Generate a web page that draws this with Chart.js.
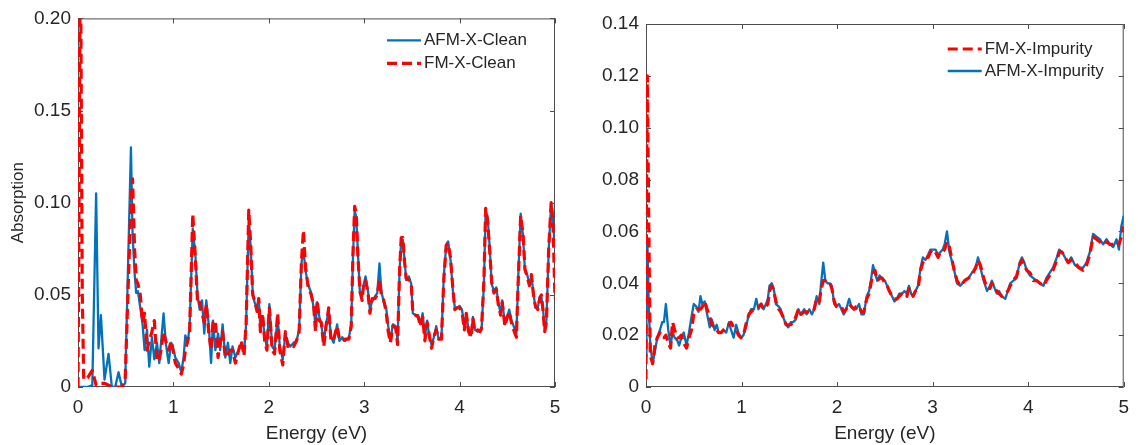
<!DOCTYPE html>
<html>
<head>
<meta charset="utf-8">
<title>Absorption spectra</title>
<script src="https://cdn.jsdelivr.net/npm/chart.js@4.4.1/dist/chart.umd.min.js"></script>
<style>
  html, body { margin: 0; padding: 0; background: #fff; }
  #wrap { position: relative; width: 1138px; height: 445px; overflow: hidden; }
  canvas { position: absolute; top: 0; }
  #cleanChart { left: 0; }
  #impChart { left: 580px; }
</style>
</head>
<body>
<div id="wrap">
  <canvas id="cleanChart" width="570" height="445"></canvas>
  <canvas id="impChart" width="558" height="445"></canvas>
</div>
<script>
// tick values / labels
const energyTicks = [0, 1, 2, 3, 4, 5];
const cleanTicks = [0, 0.05, 0.10, 0.15, 0.20];
const cleanTickLabels = ['0', '0.05', '0.10', '0.15', '0.20'];
const impTicks = [0, 0.02, 0.04, 0.06, 0.08, 0.10, 0.12, 0.14];
const impTickLabels = ['0', '0.02', '0.04', '0.06', '0.08', '0.10', '0.12', '0.14'];

// left panel: clean (energy in eV)
const energyClean = [
  0, 0.01, 0.02, 0.03, 0.045, 0.06, 0.1, 0.15, 0.19, 0.215,
  0.24, 0.278, 0.32, 0.355, 0.39, 0.425, 0.46, 0.495, 0.52, 0.555,
  0.572, 0.593, 0.61, 0.628, 0.653, 0.677, 0.698, 0.723, 0.747, 0.775,
  0.8, 0.828, 0.852, 0.87, 0.897, 0.92, 0.95, 0.978, 1.003, 1.02,
  1.055, 1.083, 1.107, 1.125, 1.15, 1.17, 1.203, 1.23, 1.254, 1.275,
  1.3, 1.324, 1.345, 1.37, 1.395, 1.415, 1.44, 1.468, 1.49, 1.516,
  1.544, 1.572, 1.596, 1.62, 1.65, 1.684, 1.712, 1.74, 1.762, 1.79,
  1.81, 1.831, 1.85, 1.877, 1.895, 1.912, 1.935, 1.957, 1.98, 2.006,
  2.035, 2.06, 2.093, 2.115, 2.146, 2.174, 2.2, 2.225, 2.26, 2.29,
  2.318, 2.342, 2.363, 2.385, 2.41, 2.445, 2.47, 2.49, 2.507, 2.53,
  2.55, 2.576, 2.6, 2.628, 2.652, 2.68, 2.716, 2.74, 2.77, 2.8,
  2.84, 2.864, 2.882, 2.9, 2.917, 2.933, 2.955, 2.978, 2.996, 3.014,
  3.04, 3.06, 3.085, 3.112, 3.137, 3.16, 3.18, 3.205, 3.23, 3.252,
  3.275, 3.3, 3.33, 3.35, 3.37, 3.388, 3.405, 3.423, 3.44, 3.468,
  3.493, 3.51, 3.537, 3.565, 3.59, 3.613, 3.636, 3.66, 3.683, 3.706,
  3.73, 3.755, 3.78, 3.81, 3.834, 3.86, 3.88, 3.905, 3.93, 3.95,
  3.975, 4.0, 4.025, 4.05, 4.07, 4.094, 4.12, 4.14, 4.16, 4.19,
  4.215, 4.23, 4.255, 4.273, 4.294, 4.318, 4.336, 4.36, 4.385, 4.405,
  4.43, 4.447, 4.475, 4.5, 4.52, 4.543, 4.567, 4.595, 4.615, 4.64,
  4.665, 4.685, 4.708, 4.732, 4.753, 4.774, 4.795, 4.82, 4.84, 4.857,
  4.875, 4.892, 4.91, 4.934, 4.96, 4.978, 5.0
];
const afmClean = [
  0, 0, 0, 0, 0, 0, 0, 0.001, 0.105, 0.021,
  0.039, 0.004, 0.018, 0, 0, 0.008, 0, 0.002, 0.056, 0.13,
  0.083, 0.062, 0.051, 0.052, 0.043, 0.034, 0.02, 0.031, 0.011, 0.027,
  0.015, 0.024, 0.013, 0.024, 0.04, 0.024, 0.013, 0.024, 0.02, 0.016,
  0.013, 0.008, 0.016, 0.028, 0.024, 0.033, 0.086, 0.072, 0.049, 0.042,
  0.047, 0.029, 0.047, 0.034, 0.013, 0.036, 0.02, 0.029, 0.02, 0.034,
  0.016, 0.024, 0.013, 0.022, 0.016, 0.02, 0.024, 0.018, 0.034, 0.092,
  0.076, 0.052, 0.046, 0.043, 0.048, 0.031, 0.038, 0.027, 0.022, 0.045,
  0.022, 0.02, 0.038, 0.022, 0.015, 0.029, 0.024, 0.022, 0.024, 0.025,
  0.031, 0.067, 0.075, 0.063, 0.056, 0.051, 0.043, 0.033, 0.046, 0.038,
  0.034, 0.024, 0.034, 0.042, 0.027, 0.024, 0.034, 0.025, 0.027, 0.025,
  0.027, 0.034, 0.07, 0.096, 0.092, 0.074, 0.051, 0.049, 0.056, 0.06,
  0.052, 0.042, 0.047, 0.049, 0.051, 0.067, 0.052, 0.046, 0.043, 0.033,
  0.025, 0.034, 0.033, 0.025, 0.062, 0.08, 0.08, 0.069, 0.058, 0.06,
  0.056, 0.04, 0.039, 0.039, 0.034, 0.04, 0.027, 0.036, 0.027, 0.023,
  0.027, 0.033, 0.026, 0.027, 0.06, 0.077, 0.079, 0.069, 0.052, 0.043,
  0.043, 0.044, 0.042, 0.033, 0.04, 0.031, 0.028, 0.038, 0.031, 0.03,
  0.031, 0.031, 0.056, 0.096, 0.092, 0.074, 0.056, 0.052, 0.054, 0.046,
  0.04, 0.047, 0.034, 0.038, 0.042, 0.036, 0.033, 0.028, 0.06, 0.094,
  0.082, 0.063, 0.061, 0.056, 0.06, 0.051, 0.043, 0.043, 0.049, 0.049,
  0.042, 0.031, 0.036, 0.074, 0.1, 0.092, 0.075
];
const fmClean = [
  0, 0.09, 0.2, 0.2, 0.05, 0.004, 0.005, 0.009, 0.001, 0.001,
  0.002, 0.002, 0.001, 0, 0, 0, 0, 0.005, 0.045, 0.1,
  0.113, 0.075, 0.058, 0.056, 0.05, 0.035, 0.04, 0.02, 0.025, 0.03,
  0.036, 0.014, 0.015, 0.02, 0.03, 0.025, 0.02, 0.025, 0.018, 0.013,
  0.01, 0.007, 0.012, 0.02, 0.025, 0.03, 0.094, 0.07, 0.045, 0.046,
  0.04, 0.035, 0.045, 0.03, 0.02, 0.035, 0.036, 0.016, 0.025, 0.03,
  0.016, 0.018, 0.02, 0.02, 0.013, 0.02, 0.025, 0.017, 0.034, 0.096,
  0.078, 0.05, 0.047, 0.041, 0.048, 0.03, 0.04, 0.025, 0.02, 0.043,
  0.02, 0.018, 0.04, 0.02, 0.012, 0.03, 0.022, 0.023, 0.022, 0.025,
  0.03, 0.068, 0.085, 0.065, 0.055, 0.05, 0.044, 0.03, 0.047, 0.036,
  0.035, 0.022, 0.033, 0.043, 0.025, 0.026, 0.033, 0.026, 0.025, 0.026,
  0.026, 0.033, 0.072, 0.098, 0.094, 0.072, 0.052, 0.047, 0.057, 0.058,
  0.051, 0.04, 0.048, 0.048, 0.05, 0.058, 0.05, 0.047, 0.041, 0.03,
  0.024, 0.033, 0.032, 0.023, 0.062, 0.081, 0.081, 0.068, 0.059, 0.058,
  0.056, 0.04, 0.039, 0.038, 0.033, 0.038, 0.025, 0.035, 0.028, 0.021,
  0.027, 0.031, 0.026, 0.026, 0.058, 0.077, 0.078, 0.07, 0.053, 0.042,
  0.043, 0.043, 0.041, 0.031, 0.04, 0.03, 0.027, 0.037, 0.03, 0.031,
  0.03, 0.032, 0.058, 0.097, 0.09, 0.072, 0.057, 0.051, 0.053, 0.045,
  0.039, 0.046, 0.033, 0.038, 0.041, 0.035, 0.031, 0.027, 0.058, 0.093,
  0.083, 0.064, 0.06, 0.055, 0.061, 0.05, 0.044, 0.042, 0.048, 0.05,
  0.041, 0.03, 0.035, 0.075, 0.1, 0.09, 0.048
];

// right panel: impurity (energy in eV)
const energyImp = [
  0, 0.005, 0.014, 0.03, 0.045, 0.07, 0.094, 0.118, 0.146, 0.17,
  0.188, 0.208, 0.233, 0.257, 0.278, 0.3, 0.327, 0.347, 0.37, 0.395,
  0.424, 0.45, 0.476, 0.5, 0.528, 0.55, 0.57, 0.59, 0.614, 0.64,
  0.667, 0.69, 0.718, 0.74, 0.76, 0.787, 0.81, 0.84, 0.868, 0.89,
  0.917, 0.944, 0.967, 0.995, 1.02, 1.045, 1.077, 1.1, 1.13, 1.154,
  1.177, 1.205, 1.23, 1.256, 1.275, 1.292, 1.316, 1.337, 1.36, 1.39,
  1.41, 1.435, 1.466, 1.49, 1.515, 1.54, 1.567, 1.595, 1.62, 1.657,
  1.68, 1.71, 1.737, 1.76, 1.786, 1.814, 1.83, 1.855, 1.877, 1.9,
  1.925, 1.945, 1.97, 1.993, 2.02, 2.045, 2.07, 2.095, 2.126, 2.15,
  2.177, 2.2, 2.23, 2.255, 2.28, 2.31, 2.335, 2.35, 2.376, 2.397,
  2.42, 2.445, 2.47, 2.5, 2.524, 2.547, 2.575, 2.6, 2.627, 2.65,
  2.68, 2.705, 2.73, 2.752, 2.775, 2.795, 2.82, 2.847, 2.874, 2.898,
  2.925, 2.953, 2.977, 3.0, 3.03, 3.057, 3.08, 3.105, 3.125, 3.15,
  3.176, 3.22, 3.255, 3.29, 3.335, 3.375, 3.41, 3.45, 3.475, 3.5,
  3.534, 3.57, 3.6, 3.62, 3.65, 3.672, 3.695, 3.724, 3.76, 3.787,
  3.812, 3.846, 3.88, 3.91, 3.935, 3.96, 3.985, 4.02, 4.054, 4.09,
  4.124, 4.16, 4.19, 4.225, 4.26, 4.3, 4.325, 4.355, 4.385, 4.42,
  4.45, 4.49, 4.53, 4.575, 4.61, 4.645, 4.68, 4.715, 4.75, 4.785,
  4.82, 4.855, 4.89, 4.925, 4.95, 4.975, 5.0
];
const afmImp = [
  0.012, 0.04, 0.057, 0.03, 0.016, 0.009, 0.014, 0.019, 0.022, 0.025,
  0.025, 0.032, 0.022, 0.016, 0.021, 0.019, 0.018, 0.016, 0.019, 0.021,
  0.016, 0.021, 0.027, 0.032, 0.031, 0.029, 0.035, 0.032, 0.033, 0.028,
  0.023, 0.026, 0.022, 0.024, 0.021, 0.021, 0.022, 0.021, 0.025, 0.022,
  0.019, 0.024, 0.021, 0.019, 0.02, 0.023, 0.028, 0.03, 0.03, 0.034,
  0.03, 0.032, 0.03, 0.032, 0.034, 0.039, 0.04, 0.038, 0.032, 0.031,
  0.03, 0.027, 0.024, 0.023, 0.025, 0.025, 0.026, 0.03, 0.028, 0.03,
  0.028, 0.03, 0.028, 0.03, 0.035, 0.032, 0.039, 0.048, 0.041, 0.04,
  0.04, 0.039, 0.032, 0.031, 0.032, 0.03, 0.028, 0.03, 0.034, 0.031,
  0.03, 0.03, 0.032, 0.028, 0.028, 0.035, 0.037, 0.04, 0.047, 0.044,
  0.041, 0.043, 0.042, 0.041, 0.039, 0.037, 0.035, 0.033, 0.034, 0.036,
  0.036, 0.037, 0.036, 0.039, 0.036, 0.035, 0.037, 0.039, 0.046, 0.05,
  0.049, 0.051, 0.053, 0.053, 0.053, 0.051, 0.052, 0.053, 0.055, 0.06,
  0.052, 0.046, 0.04, 0.039, 0.041, 0.042, 0.044, 0.046, 0.05, 0.046,
  0.041, 0.037, 0.039, 0.041, 0.038, 0.036, 0.037, 0.035, 0.034, 0.037,
  0.04, 0.041, 0.042, 0.048, 0.05, 0.048, 0.045, 0.043, 0.042, 0.041,
  0.04, 0.039, 0.042, 0.044, 0.046, 0.05, 0.053, 0.052, 0.05, 0.048,
  0.05, 0.047, 0.046, 0.046, 0.048, 0.052, 0.059, 0.058, 0.057, 0.055,
  0.057, 0.055, 0.054, 0.057, 0.053, 0.062, 0.066
];
const fmImp = [
  0.003, 0.07, 0.12, 0.06, 0.012, 0.009, 0.016, 0.019, 0.021, 0.019,
  0.019, 0.02, 0.017, 0.015, 0.025, 0.022, 0.019, 0.019, 0.02, 0.017,
  0.015, 0.019, 0.022, 0.028, 0.03, 0.03, 0.03, 0.031, 0.033, 0.03,
  0.027, 0.024, 0.023, 0.022, 0.021, 0.021, 0.022, 0.023, 0.024, 0.025,
  0.023, 0.022, 0.02, 0.019, 0.02, 0.024, 0.028, 0.029, 0.03, 0.031,
  0.031, 0.032, 0.03, 0.031, 0.032, 0.037, 0.039, 0.037, 0.033, 0.03,
  0.029, 0.027, 0.024, 0.024, 0.024, 0.025, 0.027, 0.03, 0.028, 0.029,
  0.029, 0.029, 0.029, 0.03, 0.034, 0.033, 0.037, 0.041, 0.041, 0.04,
  0.04, 0.038, 0.033, 0.031, 0.031, 0.031, 0.029, 0.03, 0.032, 0.031,
  0.03, 0.031, 0.031, 0.029, 0.029, 0.034, 0.036, 0.039, 0.044, 0.045,
  0.041, 0.042, 0.042, 0.04, 0.039, 0.037, 0.035, 0.034, 0.034, 0.035,
  0.036, 0.036, 0.035, 0.038, 0.037, 0.035, 0.037, 0.038, 0.045, 0.048,
  0.05, 0.05, 0.052, 0.053, 0.052, 0.05, 0.052, 0.052, 0.053, 0.056,
  0.054, 0.046, 0.041, 0.039, 0.041, 0.042, 0.043, 0.046, 0.049, 0.047,
  0.042, 0.038, 0.038, 0.04, 0.038, 0.037, 0.036, 0.035, 0.036, 0.037,
  0.039, 0.041, 0.043, 0.047, 0.049, 0.047, 0.045, 0.044, 0.041, 0.041,
  0.04, 0.039, 0.041, 0.043, 0.045, 0.049, 0.052, 0.052, 0.05, 0.048,
  0.049, 0.048, 0.046, 0.045, 0.047, 0.051, 0.058, 0.057, 0.056, 0.055,
  0.056, 0.055, 0.055, 0.056, 0.055, 0.058, 0.062
];

[[energyClean, afmClean, fmClean], [energyImp, afmImp, fmImp]].forEach(g => {
  if (g[0].length !== g[1].length || g[0].length !== g[2].length) {
    throw new Error('length mismatch ' + g.map(a => a.length).join(','));
  }
});

const BLUE = '#0072BD';
const RED = '#FF0000';
const TEXT = '#262626';
const FONT = '"Liberation Sans", Arial, Helvetica, sans-serif';

Chart.defaults.font.family = FONT;
Chart.defaults.color = TEXT;

function toPoints(xs, ys) {
  return xs.map((x, i) => ({ x: x, y: ys[i] }));
}

// box around the axes with inward tick marks on all four sides (matlab style)
const boxTicks = {
  id: 'boxTicks',
  beforeDatasetsDraw(chart) {
    const { ctx, chartArea: a, scales: { x, y } } = chart;
    ctx.save();
    ctx.strokeStyle = '#4d4d4d';
    ctx.lineWidth = 1;
    ctx.strokeRect(a.left + 0.5, a.top + 0.5, a.right - a.left - 1, a.bottom - a.top - 1);
    ctx.beginPath();
    x.ticks.forEach(t => {
      const px = Math.round(x.getPixelForValue(t.value)) + 0.5;
      ctx.moveTo(px, a.bottom); ctx.lineTo(px, a.bottom - 5);
      ctx.moveTo(px, a.top); ctx.lineTo(px, a.top + 5);
    });
    y.ticks.forEach(t => {
      const py = Math.round(y.getPixelForValue(t.value)) + 0.5;
      ctx.moveTo(a.left, py); ctx.lineTo(a.left + 5, py);
      ctx.moveTo(a.right, py); ctx.lineTo(a.right - 5, py);
    });
    ctx.stroke();
    ctx.restore();
  }
};

// legend inside the upper right corner, no frame
const insideLegend = {
  id: 'insideLegend',
  afterDraw(chart, args, opts) {
    const { ctx, chartArea } = chart;
    ctx.save();
    ctx.font = '17px ' + FONT;
    ctx.textBaseline = 'middle';
    ctx.fillStyle = TEXT;
    opts.order.forEach((di, row) => {
      const ds = chart.data.datasets[di];
      const y = chartArea.top + opts.top + row * opts.rowGap;
      const x0 = chartArea.right - opts.right;
      ctx.beginPath();
      ctx.strokeStyle = ds.borderColor;
      ctx.lineWidth = ds.borderWidth;
      ctx.setLineDash(ds.borderDash || []);
      ctx.moveTo(x0, y);
      ctx.lineTo(x0 + opts.lineLen, y);
      ctx.stroke();
      ctx.setLineDash([]);
      ctx.fillText(ds.label, x0 + opts.lineLen + 3, y);
    });
    ctx.restore();
  }
};

function makeOptions(cfg) {
  return {
    responsive: false,
    animation: false,
    events: [],
    layout: { padding: { left: 0, right: cfg.padRight, top: cfg.padTop, bottom: 0 } },
    plugins: {
      legend: { display: false },
      tooltip: { enabled: false },
      insideLegend: cfg.legend
    },
    elements: { point: { radius: 0 }, line: { tension: 0, borderJoinStyle: 'round' } },
    scales: {
      x: {
        type: 'linear',
        min: 0,
        max: 5,
        afterBuildTicks: a => { a.ticks = energyTicks.map(v => ({ value: v })); },
        afterFit: a => { a.height = 58; },
        grid: { display: false, drawTicks: false },
        border: { display: false },
        ticks: { padding: 9, color: TEXT, font: { size: 19 }, maxRotation: 0, autoSkip: false,
                 callback: v => String(v) },
        title: { display: true, text: 'Energy (eV)', color: TEXT, font: { size: 19 }, padding: 0 }
      },
      y: {
        type: 'linear',
        min: 0,
        max: cfg.yMax,
        afterBuildTicks: a => { a.ticks = cfg.yTicks.map(v => ({ value: v })); },
        afterFit: a => { a.width = cfg.yWidth; },
        grid: { display: false, drawTicks: false },
        border: { display: false },
        ticks: { padding: 7, color: TEXT, font: { size: 19 }, autoSkip: false,
                 callback: (v, i) => cfg.yLabels[i] },
        title: cfg.yTitle
          ? { display: true, text: cfg.yTitle, color: TEXT, font: { size: 17 }, padding: { top: 8, bottom: 0 } }
          : { display: false }
      }
    }
  };
}

// left panel
new Chart(document.getElementById('cleanChart'), {
  type: 'line',
  data: {
    datasets: [
      { label: 'AFM-X-Clean', data: toPoints(energyClean, afmClean), borderColor: BLUE,
        borderWidth: 2.3, order: 1, fill: false },
      { label: 'FM-X-Clean', data: toPoints(energyClean, fmClean), borderColor: RED,
        borderWidth: 3.2, borderDash: [10, 5], order: 0, fill: false }
    ]
  },
  options: makeOptions({
    padRight: 15, padTop: 18, yMax: 0.2, yWidth: 78,
    yTicks: cleanTicks, yLabels: cleanTickLabels, yTitle: 'Absorption',
    legend: { order: [0, 1], top: 22, rowGap: 23, right: 168, lineLen: 34 }
  }),
  plugins: [boxTicks, insideLegend]
});

// right panel
new Chart(document.getElementById('impChart'), {
  type: 'line',
  data: {
    datasets: [
      { label: 'AFM-X-Impurity', data: toPoints(energyImp, afmImp), borderColor: BLUE,
        borderWidth: 2.3, order: 1, fill: false },
      { label: 'FM-X-Impurity', data: toPoints(energyImp, fmImp), borderColor: RED,
        borderWidth: 3.2, borderDash: [10, 5], order: 0, fill: false }
    ]
  },
  options: makeOptions({
    padRight: 12, padTop: 24, yMax: 0.14, yWidth: 66,
    yTicks: impTicks, yLabels: impTickLabels, yTitle: null,
    legend: { order: [1, 0], top: 25, rowGap: 22, right: 176, lineLen: 34 }
  }),
  plugins: [boxTicks, insideLegend]
});
</script>
</body>
</html>
